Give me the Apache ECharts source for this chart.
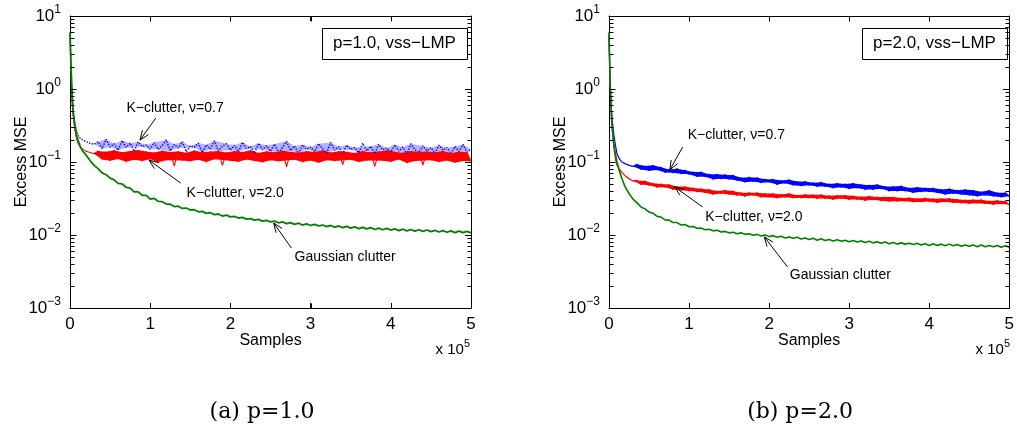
<!DOCTYPE html>
<html>
<head>
<meta charset="utf-8">
<script src="https://cdn.jsdelivr.net/npm/echarts@6/dist/echarts.min.js"></script>
<style>
  html, body { margin: 0; padding: 0; background: #fff; }
  #chart { width: 1017px; height: 436px; }
</style>
</head>
<body>
<div id="chart"></div>
<script>
const FONT = "'Liberation Sans', Arial, sans-serif"
const SERIF = "'DejaVu Serif', serif"

// samples, in units of 10^5
const xs = [
  0, 0.005, 0.01, 0.02, 0.03, 0.04, 0.06, 0.08, 0.1, 0.13, 0.16, 0.2, 0.25, 0.3,
  0.35, 0.4, 0.45, 0.5, 0.55, 0.6, 0.65, 0.7, 0.75, 0.8, 0.85, 0.9, 0.95, 1.0,
  1.05, 1.1, 1.15, 1.2, 1.25, 1.3, 1.35, 1.4, 1.45, 1.5,
  1.55, 1.6, 1.65, 1.7, 1.75, 1.8, 1.85, 1.9, 1.95, 2.0,
  2.05, 2.1, 2.15, 2.2, 2.25, 2.3, 2.35, 2.4, 2.45, 2.5,
  2.55, 2.6, 2.65, 2.7, 2.75, 2.8, 2.85, 2.9, 2.95, 3.0,
  3.05, 3.1, 3.15, 3.2, 3.25, 3.3, 3.35, 3.4, 3.45, 3.5,
  3.55, 3.6, 3.65, 3.7, 3.75, 3.8, 3.85, 3.9, 3.95, 4.0,
  4.05, 4.1, 4.15, 4.2, 4.25, 4.3, 4.35, 4.4, 4.45, 4.5,
  4.55, 4.6, 4.65, 4.7, 4.75, 4.8, 4.85, 4.9, 4.95, 5.0
]

// (a) p=1.0
const gaussP1 = [
  6, 4, 2.5, 1.2, 0.7, 0.48, 0.32, 0.24, 0.2, 0.16, 0.14, 0.125, 0.105, 0.09,
  0.081, 0.071, 0.067, 0.06, 0.057, 0.051, 0.05, 0.045, 0.044, 0.039, 0.039, 0.035, 0.035, 0.031,
  0.0318, 0.0289, 0.0286, 0.0265, 0.0264, 0.0245, 0.0248, 0.0231, 0.0234, 0.022,
  0.0222, 0.0208, 0.0211, 0.0198, 0.0202, 0.019, 0.0194, 0.0182, 0.0187, 0.0177,
  0.018, 0.0171, 0.0174, 0.0165, 0.0168, 0.016, 0.0164, 0.0155, 0.0159, 0.0151,
  0.0155, 0.0147, 0.0151, 0.0143, 0.0148, 0.014, 0.0145, 0.0137, 0.0142, 0.0135,
  0.014, 0.0133, 0.0137, 0.013, 0.0135, 0.0128, 0.0133, 0.0126, 0.0131, 0.0124,
  0.0129, 0.0122, 0.0127, 0.0121, 0.0126, 0.0119, 0.0124, 0.0118, 0.0123, 0.0117,
  0.0121, 0.0115, 0.012, 0.0114, 0.0119, 0.0113, 0.0118, 0.0112, 0.0117, 0.0111,
  0.0116, 0.011, 0.0115, 0.0109, 0.0114, 0.0108, 0.0113, 0.0108, 0.0112, 0.0107
]
const kNu07P1 = [
  5.5, 4, 2.6, 1.2, 0.7, 0.5, 0.34, 0.27, 0.23, 0.21, 0.2, 0.19, 0.18, 0.175,
  0.19, 0.152, 0.205, 0.16, 0.178, 0.145, 0.196, 0.158, 0.182, 0.14, 0.188, 0.162, 0.171, 0.15,
  0.185, 0.148, 0.168, 0.2, 0.142, 0.175, 0.155, 0.19, 0.138, 0.166,
  0.158, 0.182, 0.135, 0.172, 0.15, 0.195, 0.141, 0.165, 0.178, 0.145,
  0.17, 0.138, 0.186, 0.152, 0.163, 0.132, 0.18, 0.147, 0.168, 0.14,
  0.176, 0.135, 0.158, 0.192, 0.143, 0.166, 0.13, 0.172, 0.149, 0.16,
  0.138, 0.178, 0.152, 0.133, 0.185, 0.145, 0.162, 0.128, 0.17, 0.148,
  0.158, 0.134, 0.181, 0.142, 0.164, 0.13, 0.175, 0.146, 0.155, 0.136,
  0.172, 0.14, 0.16, 0.128, 0.178, 0.147, 0.135, 0.166, 0.142, 0.157,
  0.131, 0.17, 0.145, 0.158, 0.129, 0.163, 0.14, 0.174, 0.136, 0.15
]
const kNu20P1 = [
  5, 3.5, 2.2, 1.0, 0.6, 0.42, 0.28, 0.21, 0.18, 0.16, 0.15, 0.14, 0.135, 0.13,
  0.142, 0.108, 0.138, 0.104, 0.145, 0.11, 0.136, 0.101, 0.141, 0.107, 0.146, 0.103, 0.139, 0.109,
  0.135, 0.099, 0.143, 0.106, 0.137, 0.088, 0.14, 0.105, 0.134, 0.102,
  0.144, 0.107, 0.136, 0.1, 0.139, 0.109, 0.142, 0.09, 0.135, 0.104,
  0.141, 0.101, 0.137, 0.108, 0.145, 0.103, 0.133, 0.099, 0.14, 0.106,
  0.136, 0.102, 0.143, 0.086, 0.138, 0.107, 0.134, 0.1, 0.141, 0.105,
  0.137, 0.098, 0.144, 0.106, 0.135, 0.103, 0.14, 0.092, 0.138, 0.107,
  0.133, 0.1, 0.142, 0.105, 0.136, 0.087, 0.139, 0.104, 0.145, 0.101,
  0.138, 0.108, 0.134, 0.097, 0.141, 0.103, 0.137, 0.091, 0.14, 0.106,
  0.135, 0.1, 0.143, 0.105, 0.132, 0.098, 0.139, 0.103, 0.136, 0.102
]

// (b) p=2.0
const gaussP2 = [
  6, 3.5, 1.8, 0.8, 0.45, 0.3, 0.18, 0.13, 0.1, 0.075, 0.06, 0.046, 0.037, 0.031,
  0.0275, 0.0242, 0.0228, 0.0206, 0.0199, 0.018, 0.0176, 0.0161, 0.016, 0.0148, 0.0148, 0.0137, 0.0139, 0.013,
  0.0131, 0.0124, 0.0125, 0.0118, 0.012, 0.0114, 0.0116, 0.011, 0.0112, 0.0107,
  0.0109, 0.0104, 0.0107, 0.0102, 0.0104, 0.0099, 0.0102, 0.0097, 0.01, 0.0095,
  0.0098, 0.0093, 0.0096, 0.0091, 0.0094, 0.009, 0.0093, 0.0088, 0.0091, 0.0087,
  0.009, 0.0085, 0.0089, 0.0084, 0.0087, 0.0083, 0.0086, 0.0082, 0.0085, 0.0081,
  0.0084, 0.008, 0.0083, 0.0079, 0.0082, 0.0078, 0.0081, 0.0077, 0.008, 0.0076,
  0.0079, 0.0075, 0.0078, 0.0075, 0.0077, 0.0074, 0.0077, 0.0073, 0.0076, 0.0072,
  0.0076, 0.0072, 0.0075, 0.0071, 0.0075, 0.0071, 0.0074, 0.007, 0.0073, 0.007,
  0.0073, 0.0069, 0.0073, 0.0069, 0.0072, 0.0069, 0.0072, 0.0068, 0.0071, 0.0068
]
const kNu07P2 = [
  5.5, 3.2, 1.8, 0.9, 0.55, 0.38, 0.24, 0.17, 0.13, 0.11, 0.1, 0.095, 0.09, 0.087,
  0.093, 0.079, 0.088, 0.076, 0.09, 0.078, 0.085, 0.072, 0.079, 0.071, 0.081, 0.069, 0.077, 0.068,
  0.073, 0.063, 0.073, 0.063, 0.068, 0.058, 0.068, 0.059, 0.067, 0.058,
  0.066, 0.056, 0.061, 0.053, 0.062, 0.054, 0.061, 0.052, 0.058, 0.053,
  0.058, 0.049, 0.056, 0.051, 0.057, 0.048, 0.054, 0.047, 0.054, 0.048,
  0.052, 0.046, 0.053, 0.046, 0.05, 0.044, 0.051, 0.045, 0.05, 0.043,
  0.051, 0.044, 0.049, 0.042, 0.048, 0.042, 0.049, 0.043, 0.046, 0.04,
  0.046, 0.04, 0.047, 0.04, 0.044, 0.038, 0.045, 0.039, 0.044, 0.039,
  0.044, 0.038, 0.042, 0.036, 0.043, 0.037, 0.041, 0.036, 0.042, 0.035,
  0.041, 0.034, 0.039, 0.035, 0.041, 0.034, 0.038, 0.033, 0.038, 0.034
]
const kNu20P2 = [
  5, 3, 1.6, 0.75, 0.42, 0.28, 0.16, 0.11, 0.09, 0.08, 0.072, 0.065, 0.059, 0.055,
  0.056, 0.049, 0.055, 0.048, 0.051, 0.045, 0.05, 0.045, 0.049, 0.042, 0.046, 0.041, 0.046, 0.04,
  0.044, 0.039, 0.043, 0.038, 0.042, 0.036, 0.04, 0.037, 0.041, 0.036,
  0.04, 0.035, 0.038, 0.034, 0.038, 0.035, 0.038, 0.033, 0.037, 0.033,
  0.037, 0.032, 0.036, 0.033, 0.037, 0.032, 0.035, 0.032, 0.036, 0.032,
  0.0355, 0.0316, 0.0357, 0.0316, 0.0345, 0.0307, 0.0349, 0.0315, 0.0349, 0.0306,
  0.0343, 0.0306, 0.0333, 0.0297, 0.034, 0.0303, 0.0331, 0.0294, 0.0331, 0.0288,
  0.0331, 0.029, 0.0322, 0.0291, 0.0323, 0.0283, 0.0315, 0.0284, 0.0322, 0.0288,
  0.0314, 0.0277, 0.0315, 0.0285, 0.0317, 0.0277, 0.0308, 0.0275, 0.0302, 0.027,
  0.0305, 0.0273, 0.0305, 0.0267, 0.0293, 0.0261, 0.0297, 0.0267, 0.0291, 0.0259
]

// tick positions: log minor ticks (2..9 per decade), inner decades, inner x ticks
const minorTicks = [
  0.002, 0.003, 0.004, 0.005, 0.006, 0.007, 0.008, 0.009,
  0.02, 0.03, 0.04, 0.05, 0.06, 0.07, 0.08, 0.09,
  0.2, 0.3, 0.4, 0.5, 0.6, 0.7, 0.8, 0.9,
  2, 3, 4, 5, 6, 7, 8, 9
]
const majorYTicks = [0.01, 0.1, 1]
const majorXTicks = [1, 2, 3, 4]

const panelTitles = ['p=1.0, vss−LMP', 'p=2.0, vss−LMP']
const captions = ['(a) p=1.0', '(b) p=2.0']

// annotation placement in data coords: text centre, arrow tail, arrow tip
const notesP1 = [
  { text: 'K−clutter, ν=0.7', at: [1.31, 0.55], tail: [1.07, 0.40], tip: [0.873, 0.20] },
  { text: 'K−clutter, ν=2.0', at: [2.06, 0.0376], tail: [1.38, 0.0515], tip: [0.985, 0.106] },
  { text: 'Gaussian clutter', at: [3.43, 0.005], tail: [2.76, 0.00664], tip: [2.54, 0.0146] }
]
const notesP2 = [
  { text: 'K−clutter, ν=0.7', at: [1.59, 0.234], tail: [0.92, 0.16], tip: [0.76, 0.078] },
  { text: 'K−clutter, ν=2.0', at: [1.81, 0.0177], tail: [1.17, 0.0242], tip: [0.82, 0.0455] },
  { text: 'Gaussian clutter', at: [2.89, 0.00283], tail: [2.23, 0.00365], tip: [1.94, 0.0094] }
]

const pairs = ys => xs.map((x, i) => [x, ys[i]])

function expLabel(v) {
  const e = Math.round(Math.log10(v))
  return '{b|10}{e|' + (e < 0 ? '−' + (-e) : e) + '}'
}

const axisLine = { show: true, onZero: false, lineStyle: { color: '#000', width: 1 } }

function xAxes(grid) {
  return [
    {
      type: 'value', gridIndex: grid, min: 0, max: 5, interval: 1, position: 'bottom',
      name: 'Samples', nameLocation: 'middle', nameGap: 25, nameMoveOverlap: false,
      nameTextStyle: { fontFamily: FONT, fontSize: 16, color: '#000' },
      axisLine, axisTick: { inside: true, length: 5, lineStyle: { color: '#000' } },
      axisLabel: { margin: 8, fontFamily: FONT, fontSize: 17, color: '#000' },
      splitLine: { show: false }
    },
    {
      type: 'value', gridIndex: grid, min: 0, max: 5, interval: 1, position: 'top',
      axisLine, axisTick: { inside: true, length: 5, lineStyle: { color: '#000' } },
      axisLabel: { show: false }, splitLine: { show: false }
    }
  ]
}

function yAxes(grid) {
  return [
    {
      type: 'log', logBase: 10, gridIndex: grid, min: 0.001, max: 10, position: 'left',
      name: 'Excess MSE', nameLocation: 'middle', nameGap: 40, nameMoveOverlap: false,
      nameTextStyle: { fontFamily: FONT, fontSize: 16, color: '#000' },
      axisLine, axisTick: { inside: true, length: 6, lineStyle: { color: '#000' } },
      axisLabel: {
        margin: 9, formatter: expLabel,
        rich: {
          b: { fontFamily: FONT, fontSize: 17, color: '#000' },
          e: { fontFamily: FONT, fontSize: 12, color: '#000', padding: [0, 0, 12, 0] }
        }
      },
      splitLine: { show: false }
    },
    {
      type: 'log', logBase: 10, gridIndex: grid, min: 0.001, max: 10, position: 'right',
      axisLine, axisTick: { inside: true, length: 6, lineStyle: { color: '#000' } },
      axisLabel: { show: false }, splitLine: { show: false }
    }
  ]
}

function line(ys, color, grid, width, type) {
  return {
    type: 'line', data: pairs(ys), xAxisIndex: grid * 2, yAxisIndex: grid * 2,
    symbol: 'none', silent: true, animation: false, z: 3,
    lineStyle: { color, width, type: type || 'solid', join: 'bevel' }
  }
}

// filled noise band between the local peaks and troughs of a noisy series;
// isolated spikes are left to the line itself
function band(ys, color, grid, from) {
  const last = xs.length - 1
  const peaks = [], troughs = []
  for (let i = from; i <= last; i++) {
    const prev = ys[Math.max(i - 1, from)], next = ys[Math.min(i + 1, last)]
    const edge = i === from || i === last
    if (edge || (ys[i] >= prev && ys[i] >= next)) peaks.push(i)
    if (edge || (ys[i] <= prev && ys[i] <= next)) troughs.push(i)
  }
  const keep = (list, isTop) => list.filter((i, k) => {
    if (k === 0 || k === list.length - 1) return true
    const a = ys[list[k - 1]], b = ys[list[k + 1]]
    return isTop ? ys[i] <= 1.1 * Math.max(a, b) : ys[i] >= 0.9 * Math.min(a, b)
  })
  const top = keep(peaks, true), bottom = keep(troughs, false)
  return {
    type: 'custom', xAxisIndex: grid * 2, yAxisIndex: grid * 2, silent: true, animation: false,
    z: 2, data: [[xs[from], ys[from]]],
    renderItem(params, api) {
      const pts = top.map(i => api.coord([xs[i], ys[i]]))
        .concat(bottom.slice().reverse().map(i => api.coord([xs[i], ys[i]])))
      return { type: 'polygon', shape: { points: pts }, style: { fill: color } }
    }
  }
}

// MATLAB-style inward ticks on all four frame edges, on their own canvas layer
// item: [x, y, side (0 left, 1 right, 2 bottom, 3 top), length]
function frameTicks(grid) {
  const data = []
  minorTicks.forEach(v => { data.push([0, v, 0, 4], [5, v, 1, 4]) })
  majorYTicks.forEach(v => { data.push([0, v, 0, 6], [5, v, 1, 6]) })
  majorXTicks.forEach(x => { data.push([x, 0.001, 2, 5], [x, 10, 3, 5]) })
  return {
    type: 'custom', xAxisIndex: grid * 2, yAxisIndex: grid * 2, silent: true, animation: false,
    clip: false, zlevel: 1, z: 1, data,
    renderItem(params, api) {
      const p = api.coord([api.value(0), api.value(1)])
      const side = api.value(2), len = api.value(3)
      let shape
      if (side < 2) {
        const y = Math.round(p[1]) + 0.5
        const x = Math.round(p[0]) + 0.5
        shape = { x1: x, y1: y, x2: x + (side === 0 ? len : -len), y2: y }
      } else {
        const x = Math.round(p[0]) + 0.5
        const y = Math.round(p[1]) + 0.5
        shape = { x1: x, y1: y, x2: x, y2: y + (side === 2 ? -len : len) }
      }
      return { type: 'line', shape, style: { stroke: '#000', lineWidth: 1 } }
    }
  }
}

function noteSeries(notes, grid) {
  return {
    type: 'custom', xAxisIndex: grid * 2, yAxisIndex: grid * 2, silent: true, animation: false,
    clip: false, z: 6,
    data: notes.map(n => n.tip),
    renderItem(params, api) {
      const n = notes[params.dataIndex]
      const at = api.coord(n.at)
      const tail = api.coord(n.tail)
      const tip = api.coord(n.tip)
      const a = Math.atan2(tip[1] - tail[1], tip[0] - tail[0])
      const L = 10, th = 0.38
      const h1 = [tip[0] - L * Math.cos(a - th), tip[1] - L * Math.sin(a - th)]
      const h2 = [tip[0] - L * Math.cos(a + th), tip[1] - L * Math.sin(a + th)]
      const st = { stroke: '#000', lineWidth: 1, fill: null }
      return {
        type: 'group',
        children: [
          { type: 'line', shape: { x1: tail[0], y1: tail[1], x2: tip[0], y2: tip[1] }, style: st },
          { type: 'polyline', shape: { points: [h1, tip, h2] }, style: st },
          {
            type: 'text',
            style: {
              text: n.text, x: at[0], y: at[1], align: 'center', verticalAlign: 'middle',
              fontFamily: FONT, fontSize: 14, fill: '#000'
            }
          }
        ]
      }
    }
  }
}

function boxGraphic(x, y, w, h, text) {
  return [
    { type: 'rect', left: x, top: y, shape: { width: w, height: h }, style: { fill: '#fff', stroke: '#000', lineWidth: 1 }, z: 10 },
    {
      type: 'text', x: x + w / 2, y: y + h / 2, z: 11,
      style: { text, align: 'center', verticalAlign: 'middle', fontFamily: FONT, fontSize: 17, fill: '#000' }
    }
  ]
}

function scaleGraphic(x, y) {
  return {
    type: 'text', x, y,
    style: {
      text: '{b|x 10}{e|5}', align: 'right', verticalAlign: 'middle',
      rich: {
        b: { fontFamily: FONT, fontSize: 15, fill: '#000' },
        e: { fontFamily: FONT, fontSize: 11, fill: '#000', padding: [0, 0, 12, 0] }
      }
    }
  }
}

const chart = echarts.init(document.getElementById('chart'), null, { renderer: 'canvas' })

chart.setOption({
  animation: false,
  backgroundColor: '#fff',
  grid: [
    { left: 70, top: 16, width: 401, height: 292 },
    { left: 609, top: 16, width: 402, height: 292 }
  ],
  xAxis: [...xAxes(0), ...xAxes(1)],
  yAxis: [...yAxes(0), ...yAxes(1)],
  series: [
    band(kNu07P1, 'rgba(0,0,255,0.3)', 0, 13),
    line(kNu07P1, '#0000ff', 0, 1.4, 'dotted'),
    band(kNu20P1, '#ff0000', 0, 13),
    line(kNu20P1, '#ff0000', 0, 1.1),
    line(gaussP1, '#008000', 0, 1.8),
    band(kNu07P2, '#0000ff', 1, 13),
    line(kNu07P2, '#0000ff', 1, 1.2),
    band(kNu20P2, '#ff0000', 1, 13),
    line(kNu20P2, '#ff0000', 1, 1.2),
    line(gaussP2, '#008000', 1, 1.6),
    frameTicks(0),
    frameTicks(1),
    noteSeries(notesP1, 0),
    noteSeries(notesP2, 1)
  ],
  graphic: [
    ...boxGraphic(322, 28, 145, 31, panelTitles[0]),
    ...boxGraphic(862, 28, 145, 31, panelTitles[1]),
    scaleGraphic(470, 350),
    scaleGraphic(1010, 350),
    {
      type: 'text', x: 262, y: 412,
      style: { text: captions[0], align: 'center', verticalAlign: 'middle', fontFamily: SERIF, fontSize: 22, fill: '#000' }
    },
    {
      type: 'text', x: 800, y: 412,
      style: { text: captions[1], align: 'center', verticalAlign: 'middle', fontFamily: SERIF, fontSize: 22, fill: '#000' }
    }
  ]
})
</script>
</body>
</html>
